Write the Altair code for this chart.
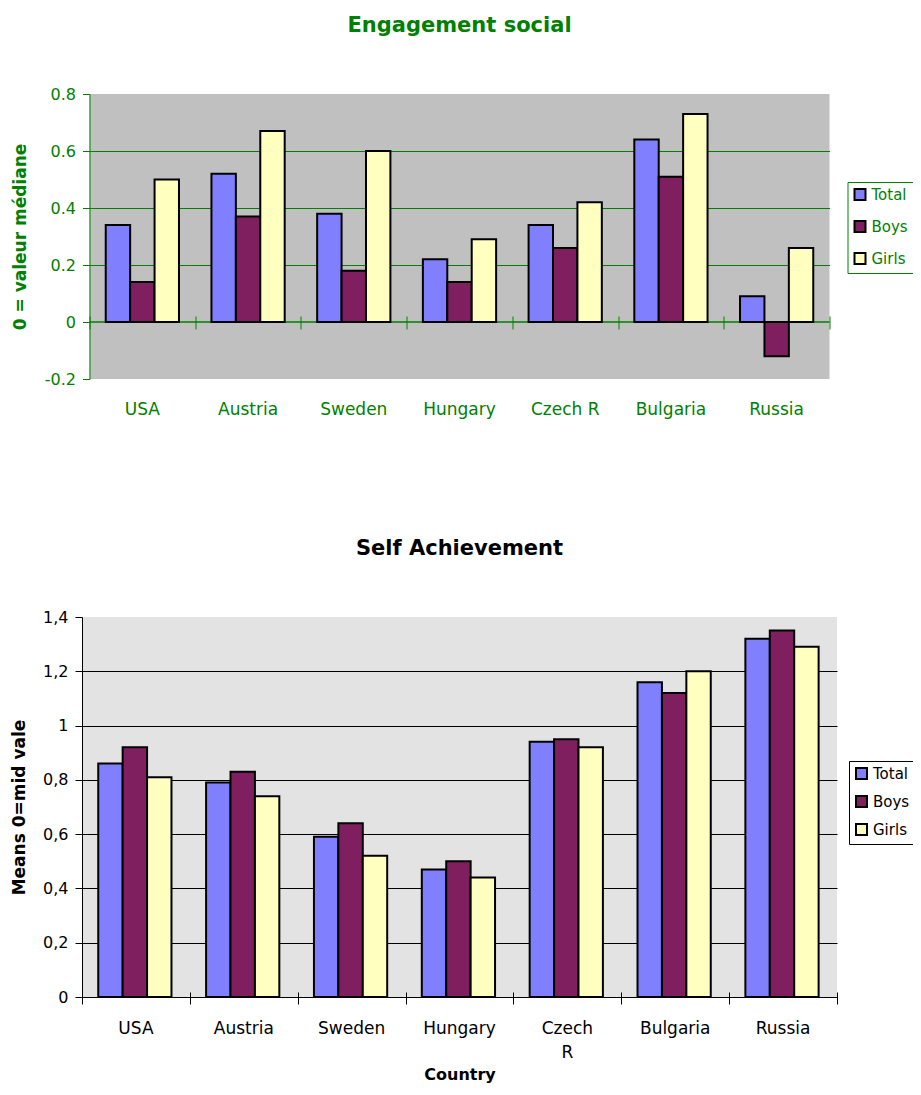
import altair as alt
import pandas as pd

countries = ["USA", "Austria", "Sweden", "Hungary", "Czech R", "Bulgaria", "Russia"]
series = ["Total", "Boys", "Girls"]
colors = ["#8080FF", "#7F1F5F", "#FFFFC0"]

eng_total = [0.34, 0.52, 0.38, 0.22, 0.34, 0.64, 0.09]
eng_boys = [0.14, 0.37, 0.18, 0.14, 0.26, 0.51, -0.12]
eng_girls = [0.50, 0.67, 0.60, 0.29, 0.42, 0.73, 0.26]

self_total = [0.86, 0.79, 0.59, 0.47, 0.94, 1.16, 1.32]
self_boys = [0.92, 0.83, 0.64, 0.50, 0.95, 1.12, 1.35]
self_girls = [0.81, 0.74, 0.52, 0.44, 0.92, 1.20, 1.29]

eng_ticks = [-0.2, 0, 0.2, 0.4, 0.6, 0.8]
eng_grid = [0.2, 0.4, 0.6]
self_ticks = [0, 0.2, 0.4, 0.6, 0.8, 1.0, 1.2, 1.4]
self_grid = [0.2, 0.4, 0.6, 0.8, 1.0, 1.2]

FONT = "DejaVu Sans"
GREEN = "#008000"


def long_df(t, b, g):
    rows = []
    for i, c in enumerate(countries):
        for s, vals in zip(series, (t, b, g)):
            rows.append({"country": c, "series": s, "value": vals[i]})
    return pd.DataFrame(rows)


def panel(df, title, tcolor, ydomain, yticks, ygrid, ytitle, ylabel_expr, grid_color,
          bg, width, height, off_pad, leg_x, leg_y, leg_row,
          tick_offset, tick_size, xlabel_expr, xtitle, label_pad, ytitle_pad, zero_rule):
    xscale = alt.Scale(paddingInner=0, paddingOuter=0)
    yscale = alt.Scale(domain=ydomain, nice=False, zero=False)
    label_axis = alt.Axis(
        orient="bottom", domain=not zero_rule, domainColor="black", domainWidth=1,
        ticks=False, grid=False, labelAngle=0, labelColor=tcolor, labelFontSize=17,
        labelFont=FONT, labelPadding=label_pad, labelExpr=xlabel_expr,
        labelLineHeight=24, titleFontSize=16, titleFont=FONT, titleFontWeight="bold",
        titleColor=tcolor, titlePadding=6,
    )
    tick_axis = alt.Axis(
        orient="bottom", domain=False, labels=False, ticks=True, tickBand="extent",
        tickSize=tick_size, tickColor=tcolor, tickWidth=1, offset=tick_offset,
        grid=False, title=None,
    )
    grid_axis = alt.Axis(
        orient="left", domain=False, labels=False, ticks=False, grid=True,
        gridColor=grid_color, gridWidth=1, gridOpacity=1, values=ygrid, title=None,
    )
    bars = alt.Chart(df).mark_bar(stroke="black", strokeWidth=2).encode(
        x=alt.X("country:N", sort=countries, scale=xscale, axis=label_axis,
                title=xtitle),
        xOffset=alt.XOffset("series:N", sort=series,
                            scale=alt.Scale(paddingInner=0, paddingOuter=off_pad)),
        y=alt.Y("value:Q", scale=yscale,
                axis=alt.Axis(
                    orient="left", values=yticks, labelExpr=ylabel_expr,
                    labelColor=tcolor, labelFontSize=16, labelFont=FONT,
                    labelPadding=7, domainColor=tcolor, domainWidth=1,
                    tickColor=tcolor, tickSize=7, grid=False,
                    titleColor=tcolor, titleFontSize=17, titleFont=FONT,
                    titleFontWeight="bold", titlePadding=ytitle_pad,
                ),
                title=ytitle),
        color=alt.Color("series:N", sort=series,
                        scale=alt.Scale(domain=series, range=colors),
                        legend=alt.Legend(
                            orient="none", legendX=leg_x, legendY=leg_y, title=None,
                            strokeColor=tcolor, fillColor="white", padding=5,
                            symbolType="square", symbolSize=121,
                            symbolStrokeColor="black", symbolStrokeWidth=2,
                            labelColor=tcolor, labelFontSize=15, labelFont=FONT,
                            labelOffset=4, rowPadding=leg_row,
                        )),
    )
    helper = alt.Chart(df).mark_point(opacity=0).encode(
        x=alt.X("country:N", sort=countries, scale=xscale, axis=tick_axis),
        y=alt.Y("value:Q", scale=yscale, axis=grid_axis),
    )
    layers = [helper]
    if zero_rule:
        layers.append(
            alt.Chart(pd.DataFrame({"z": [0]})).mark_rule(color=tcolor, strokeWidth=1.5)
            .encode(y=alt.Y(datum=0, axis=None))
        )
    layers.append(bars)
    return alt.layer(*layers).resolve_axis(x="independent", y="independent").properties(
        width=width, height=height,
        view=alt.ViewBackground(fill=bg, stroke=None),
        title=alt.Title(title, color=tcolor, fontSize=21, fontWeight="bold",
                        font=FONT, anchor="middle", offset=50),
    )


top = panel(
    long_df(eng_total, eng_boys, eng_girls), "Engagement social", GREEN,
    [-0.2, 0.8], eng_ticks, eng_grid, "0 = valeur médiane",
    "datum.value == 0 ? '0' : (datum.value < 0 ? '-' + format(-datum.value, '.1f') : format(datum.value, '.1f'))",
    GREEN, "#C0C0C0",
    740, 285, 0.665, 758, 88, 13, -63, 13, "datum.label", None, 22, 15, True,
)

bottom = panel(
    long_df(self_total, self_boys, self_girls), "Self Achievement", "black",
    [0, 1.4], self_ticks, self_grid, "Means 0=mid vale",
    "replace(format(datum.value, '.1~f'), '.', ',')",
    "black", "#E3E3E3",
    755, 380, 0.73, 767, 144, 9, -5, 12,
    "datum.label == 'Czech R' ? ['Czech', 'R'] : datum.label", "Country", 23, 14, False,
)

chart = alt.vconcat(top, bottom, spacing=238, center=True, bounds="flush").resolve_scale(
    color="independent"
).resolve_legend(color="independent").properties(
    autosize=alt.AutoSizeParams(type="none"),
    padding={"left": 74, "top": 86, "right": 831, "bottom": 993},
    background="white",
).configure(font=FONT)

chart.save("out.html", embed_options={"renderer": "svg", "actions": False})
